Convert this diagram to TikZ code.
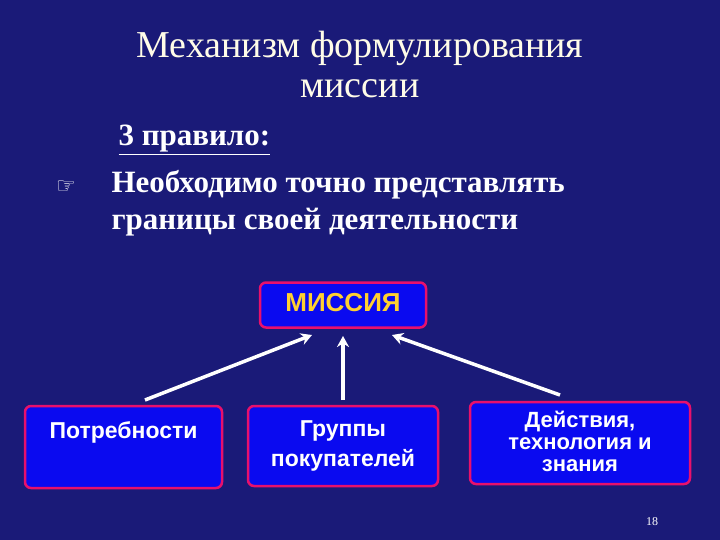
\documentclass[tikz,border=0pt]{standalone}
\usepackage{fontspec}
\setmainfont{Liberation Serif}
\newfontfamily\sansf{Liberation Sans}
\newfontfamily\djv{DejaVu Sans}
\usetikzlibrary{arrows.meta}
\definecolor{bg}{HTML}{1A1A78}
\definecolor{boxfill}{HTML}{0A0AF0}
\definecolor{boxedge}{HTML}{E8106C}
\definecolor{titlec}{HTML}{FFFCE8}
\definecolor{goldc}{HTML}{FFD030}
\tikzset{
 box/.style={draw=boxedge,line width=2.5pt,fill=boxfill,rounded corners=6pt,inner sep=0pt},
 btxt/.style={font=\sansf\bfseries\fontsize{23}{23}\selectfont,text=white,align=center},
 arr/.style={draw=white,line width=3.5pt,-{Stealth[length=11pt,width=12pt]}}
}
\begin{document}
\begin{tikzpicture}[x=1pt,y=-1pt]
\fill[bg] (0,0) rectangle (720,540);
\useasboundingbox (0,0) rectangle (720,540);
\node[text=titlec,font=\fontsize{38}{38}\selectfont] (t1) at (360,48) {Механизм формулирования};
\node[text=titlec,font=\fontsize{38}{38}\selectfont] (t2) at (360,89) {миссии};
\node[text=white,font=\bfseries\fontsize{31}{31}\selectfont,anchor=west] (r) at (115,140) {\underline{3 правило:}};
\node[text=white,font=\djv\fontsize{22}{22}\selectfont] (b) at (66,187) {☞};
\node[text=white,font=\bfseries\fontsize{31}{31}\selectfont,anchor=west] (l1) at (108,185) {Необходимо точно представлять};
\node[text=white,font=\bfseries\fontsize{31}{31}\selectfont,anchor=west] (l2) at (108,222) {границы своей деятельности};
\node[box,minimum width=166pt,minimum height=45pt] (m) at (343,305) {};
\node[font=\sansf\bfseries\fontsize{26}{26}\selectfont,text=goldc] (mt) at (343,303) {МИССИЯ};
\node[box,minimum width=197pt,minimum height=82pt] (a) at (123.5,447) {};
\node[btxt] (at) at (123.5,432) {Потребности};
\node[box,minimum width=190pt,minimum height=80pt] (g) at (343,446) {};
\node[btxt] (gt) at (343,446) {Группы\\[7pt]покупателей};
\node[box,minimum width=220pt,minimum height=82pt] (d) at (580,443) {};
\node[btxt,font=\sansf\bfseries\fontsize{22}{22}\selectfont] (dt) at (580,441) {Действия,\\технология и\\знания};
\coordinate (a1) at (145,400); \coordinate (m1) at (312,335);
\coordinate (g1) at (343,400); \coordinate (m2) at (343,336);
\coordinate (d1) at (560,395); \coordinate (m3) at (392,335);
\draw[arr] (a1) -- (m1);
\draw[arr] (g1) -- (m2);
\draw[arr] (d1) -- (m3);
\node[text=white,font=\fontsize{12}{12}\selectfont] (p) at (652,522) {18};
\end{tikzpicture}
\end{document}
